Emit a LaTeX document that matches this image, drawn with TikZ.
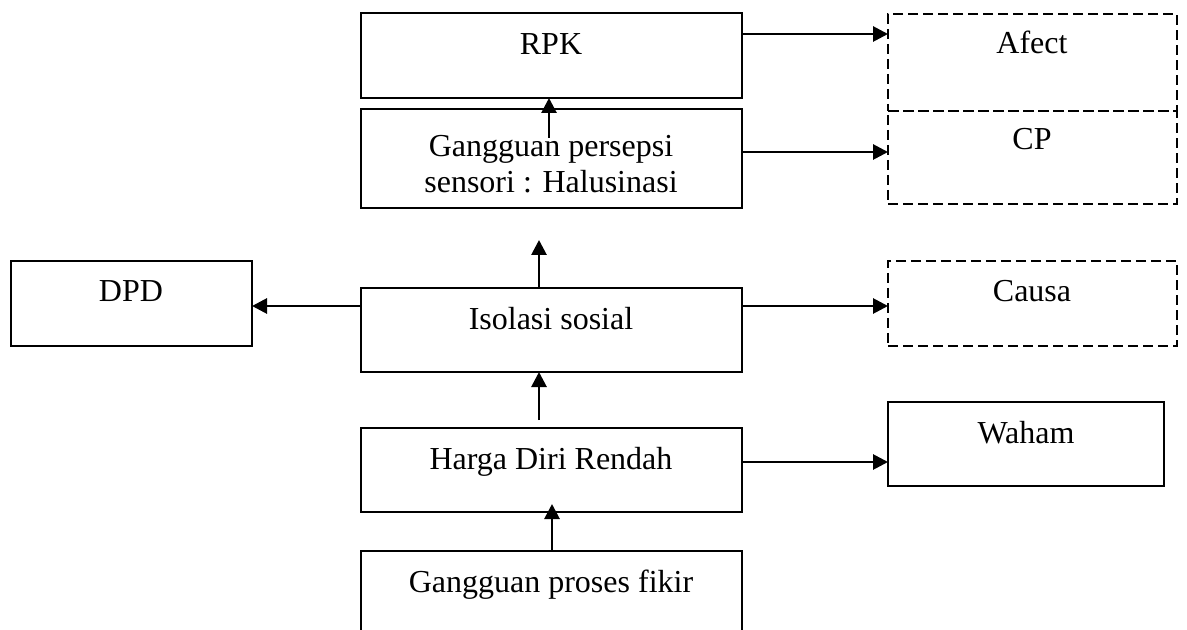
\documentclass[tikz,border=0pt]{standalone}
\usepackage{fontspec}
\setmainfont{Liberation Serif}
\usetikzlibrary{arrows.meta,calc}
\begin{document}
\begin{tikzpicture}[x=0.5pt,y=-0.5pt,
  box/.style={draw=black,line width=1.2pt,rectangle,inner sep=0pt,outer sep=0pt},
  dbox/.style={box,dash pattern=on 5pt off 2.5pt},
  txt/.style={anchor=base,inner sep=0pt,font=\fontsize{16pt}{18pt}\selectfont,align=center},
  arr/.style={draw=black,line width=1.4pt,-{Triangle[length=7.5pt,width=7.5pt]}}]
\clip (0,0) rectangle (1187,630);
\fill[white] (0,0) rectangle (1187,630);
% boxes
\node[box,minimum width=190.5pt,minimum height=42.5pt] (rpk) at (551.5,55.5) {};
\node[box,minimum width=190.5pt,minimum height=49.5pt] (gp) at (551.5,158.5) {};
\node[dbox,minimum width=144.5pt,minimum height=48.5pt] (afect) at (1032.5,62.5) {};
\node[dbox,minimum width=144.5pt,minimum height=46.5pt] (cp) at (1032.5,157.5) {};
\node[box,minimum width=120.5pt,minimum height=42.5pt] (dpd) at (131.5,303.5) {};
\node[box,minimum width=190.5pt,minimum height=42pt] (iso) at (551.5,330) {};
\node[dbox,minimum width=144.5pt,minimum height=42.5pt] (causa) at (1032.5,303.5) {};
\node[box,minimum width=190.5pt,minimum height=42pt] (harga) at (551.5,470) {};
\node[box,minimum width=138pt,minimum height=42pt] (waham) at (1026,444) {};
\node[box,minimum width=190.5pt,minimum height=45pt] (fikir) at (551.5,596) {};
% texts
\node[txt] (trpk) at (551,55) {RPK};
\node[txt] (tgp1) at (551,157) {Gangguan persepsi};
\node[txt] (tgp2) at (551,193) {sensori : Halusinasi};
\node[txt] (tafect) at (1032,54) {Afect};
\node[txt] (tcp) at (1032,150) {CP};
\node[txt] (tdpd) at (131,302) {DPD};
\node[txt] (tiso) at (551,329) {Isolasi sosial};
\node[txt] (tcausa) at (1032,302) {Causa};
\node[txt] (tharga) at (551,469) {Harga Diri Rendah};
\node[txt] (twaham) at (1026,443) {Waham};
\node[txt] (tfikir) at (551,592) {Gangguan proses fikir};
% connectors
\coordinate (gps) at ($(gp.north -| 549,0)+(0,29)$);
\draw[arr] (rpk.east |- 0,34) -- (afect.west |- 0,34);
\draw[arr] (gp.east |- 0,152) -- (cp.west |- 0,152);
\draw[arr] (gps) -- (rpk.south -| 549,0);
\draw[arr,shorten >=16pt] (iso.north -| 539,0) -- (gp.south -| 539,0);
\draw[arr] (iso.west |- 0,306) -- (dpd.east |- 0,306);
\draw[arr] (iso.east |- 0,306) -- (causa.west |- 0,306);
\draw[arr,shorten <=4pt] (harga.north -| 539,0) -- (iso.south -| 539,0);
\draw[arr,shorten >=-4pt] (fikir.north -| 552,0) -- (harga.south -| 552,0);
\draw[arr] (harga.east |- 0,462) -- (waham.west |- 0,462);
\end{tikzpicture}
\end{document}
